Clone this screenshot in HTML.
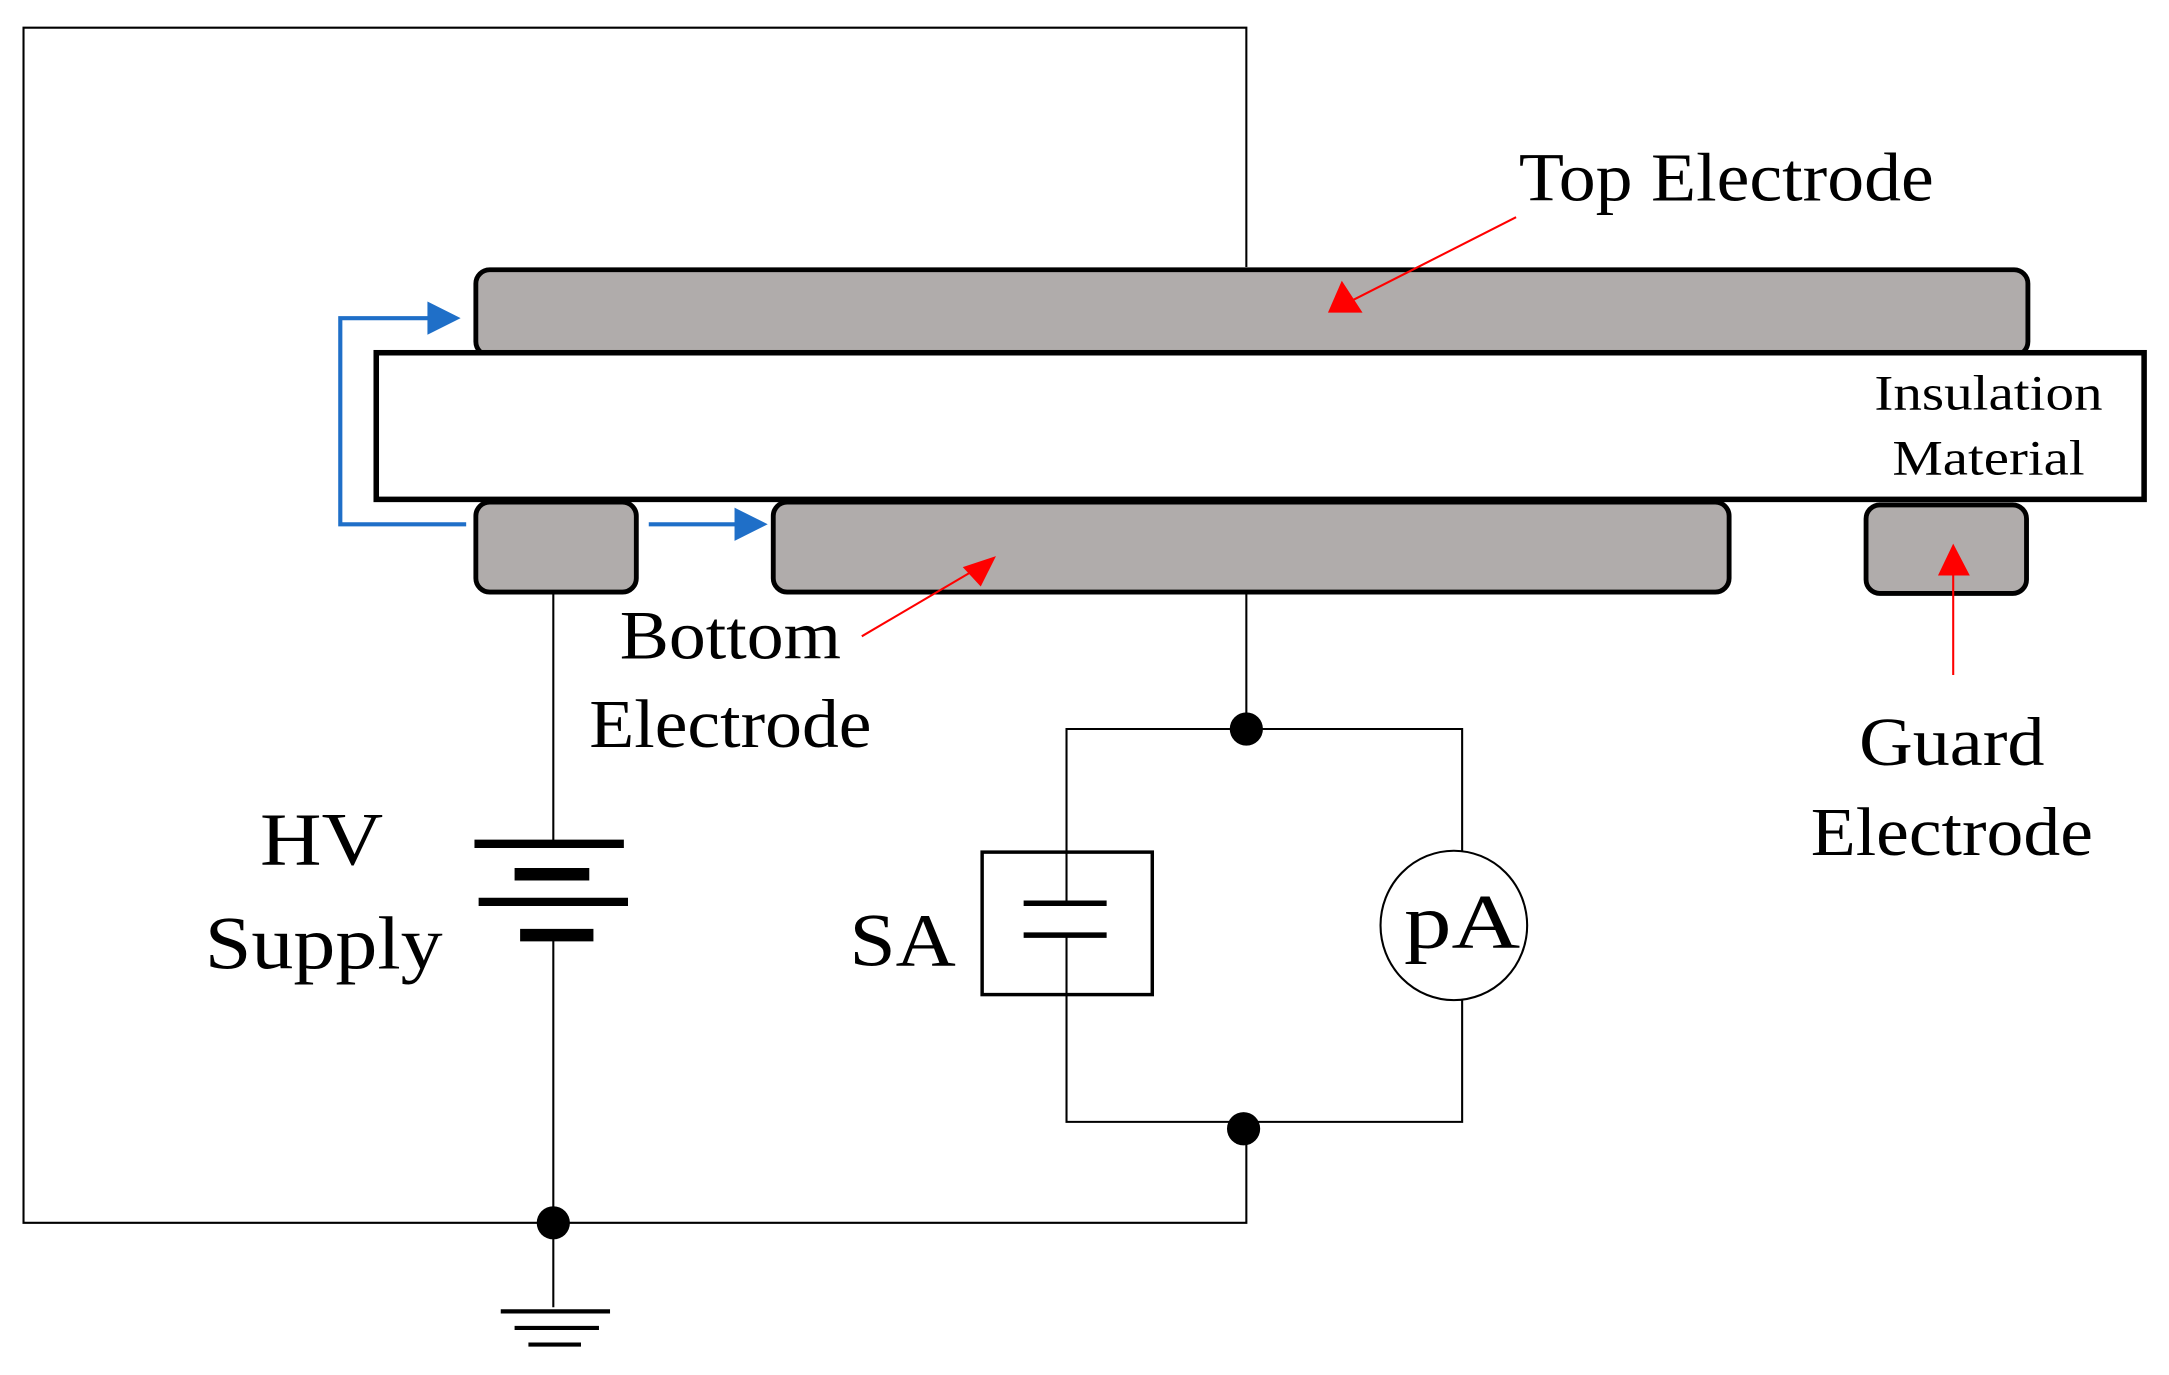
<!DOCTYPE html>
<html><head><meta charset="utf-8"><style>
html,body{margin:0;padding:0;background:#fff;}
svg{display:block;}
text{font-family:"Liberation Serif",serif;fill:#000;}
</style></head><body>
<svg width="2169" height="1375" viewBox="0 0 1568 994" preserveAspectRatio="none" xmlns="http://www.w3.org/2000/svg">
<rect width="1568" height="994" fill="#fff"/>
<g stroke="#000" stroke-width="1.5" fill="none">
<polyline points="901,193 901,20 17,20 17,884 901,884 901,816"/>
<line x1="400" y1="428" x2="400" y2="610"/>
<line x1="400" y1="676" x2="400" y2="945"/>
<line x1="901" y1="428" x2="901" y2="527"/>
<polyline points="771,616 771,527 1057,527 1057,615"/>
<polyline points="771,719 771,811 1057,811 1057,723"/>
<line x1="771" y1="616" x2="771" y2="653"/>
<line x1="771" y1="676" x2="771" y2="719"/>
</g>
<rect x="710" y="616" width="123" height="103" fill="none" stroke="#000" stroke-width="2.5"/>
<g stroke="#000" stroke-width="4">
<line x1="740" y1="653" x2="800" y2="653"/>
<line x1="740" y1="676" x2="800" y2="676"/>
</g>
<g stroke="#000" stroke-width="6">
<line x1="343" y1="610" x2="451" y2="610"/>
<line x1="372" y1="632" x2="426" y2="632" stroke-width="9"/>
<line x1="346" y1="652" x2="454" y2="652"/>
<line x1="376" y1="676" x2="429" y2="676" stroke-width="9"/>
</g>
<g stroke="#000" stroke-width="3">
<line x1="362" y1="948" x2="441" y2="948"/>
<line x1="372" y1="960" x2="433" y2="960"/>
<line x1="382" y1="972" x2="420" y2="972"/>
</g>
<ellipse cx="1051" cy="669" rx="53" ry="54" fill="#fff" stroke="#000" stroke-width="1.5"/>
<g fill="#000">
<circle cx="901" cy="527" r="12"/>
<circle cx="899" cy="816" r="12"/>
<circle cx="400" cy="884" r="12"/>
</g>
<g fill="#b0acab" stroke="#000" stroke-width="3.5">
<rect x="344" y="195" width="1122" height="62" rx="10"/>
<rect x="344" y="363" width="116" height="65" rx="10"/>
<rect x="559" y="363" width="691" height="65" rx="10"/>
<rect x="1349" y="365" width="116" height="64" rx="10"/>
</g>
<rect x="272" y="255" width="1278" height="106" fill="#fff" stroke="#000" stroke-width="4"/>
<g stroke="#1f6fc8" stroke-width="3" fill="none">
<polyline points="337,379 246,379 246,230 312,230"/>
<line x1="469" y1="379" x2="535" y2="379"/>
</g>
<g fill="#1f6fc8">
<polygon points="333,230 309,218 309,242"/>
<polygon points="555,379 531,367 531,391"/>
</g>
<g stroke="#f00" stroke-width="1.5">
<line x1="1096" y1="157" x2="972" y2="220"/>
<line x1="623" y1="460" x2="708" y2="410"/>
<line x1="1412" y1="488" x2="1412" y2="410"/>
</g>
<g fill="#f00">
<polygon points="960,226 985,226 970,203"/>
<polygon points="720,402 696,410 709,424"/>
<polygon points="1412,393 1401,416 1424,416"/>
</g>
<text x="1098" y="145" font-size="50" textLength="300" lengthAdjust="spacingAndGlyphs">Top Electrode</text>
<text x="1355" y="296" font-size="36" textLength="165" lengthAdjust="spacingAndGlyphs">Insulation</text>
<text x="1368" y="343" font-size="36" textLength="139" lengthAdjust="spacingAndGlyphs">Material</text>
<text x="448" y="476" font-size="50" textLength="160" lengthAdjust="spacingAndGlyphs">Bottom</text>
<text x="426" y="540" font-size="50" textLength="204" lengthAdjust="spacingAndGlyphs">Electrode</text>
<text x="188" y="625" font-size="54" textLength="89" lengthAdjust="spacingAndGlyphs">HV</text>
<text x="148" y="700" font-size="54" textLength="172" lengthAdjust="spacingAndGlyphs">Supply</text>
<text x="614" y="698" font-size="54" textLength="77" lengthAdjust="spacingAndGlyphs">SA</text>
<text x="1015" y="685" font-size="56" textLength="84" lengthAdjust="spacingAndGlyphs">pA</text>
<text x="1344" y="553" font-size="50" textLength="134" lengthAdjust="spacingAndGlyphs">Guard</text>
<text x="1309" y="618" font-size="50" textLength="204" lengthAdjust="spacingAndGlyphs">Electrode</text>
</svg>
</body></html>
